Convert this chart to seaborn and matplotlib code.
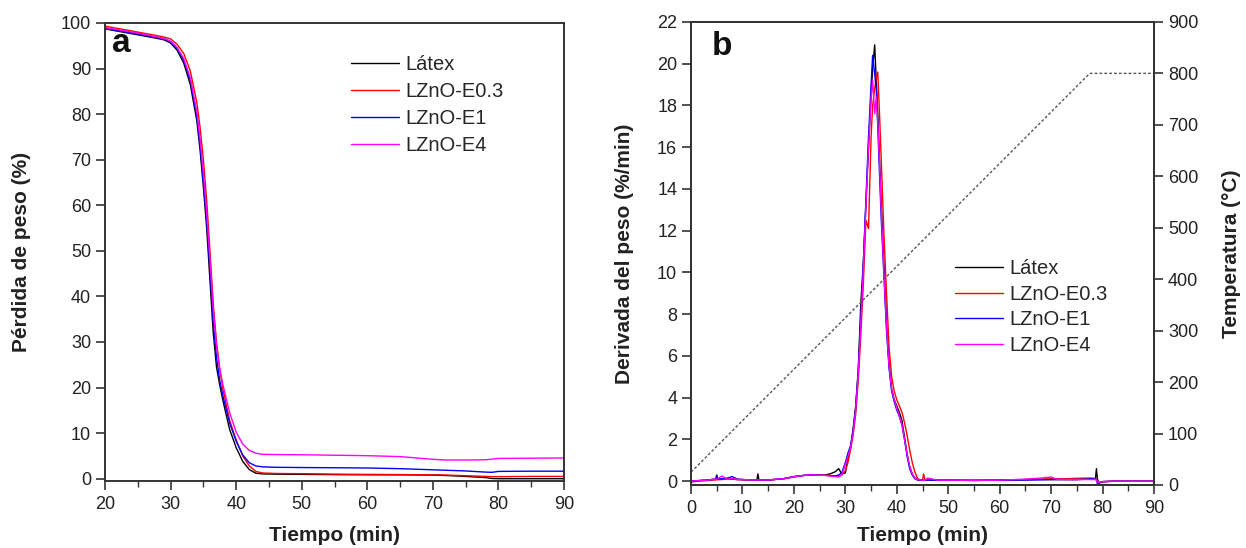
import numpy as np
import pandas as pd
import matplotlib.pyplot as plt
from matplotlib.ticker import MultipleLocator
import seaborn as sns

series = ['Látex', 'LZnO-E0.3', 'LZnO-E1', 'LZnO-E4']
colors = ['#000000', '#ff0000', '#0000ff', '#ff00ff']

# --- panel a: TGA (pérdida de peso) ---
tiempo_a = [20, 25, 28, 29, 30, 31, 32, 33, 34, 34.5, 35, 35.5, 36, 36.5, 37, 37.5, 38, 39, 40, 41,
            42, 43, 44, 46, 50, 55, 60, 65, 70, 72, 75, 78, 79, 80, 85, 90]
latex_a = [98.7, 97.4, 96.6, 96.3, 95.6, 94.0, 91.2, 86.5, 78.5, 72, 64, 55, 43.5, 32, 24.5, 20.5, 17, 10.8, 6.8, 3.8,
           2.0, 1.2, 1.05, 1.0, 0.95, 0.9, 0.85, 0.85, 0.8, 0.7, 0.5, 0.25, 0.05, 0.0, 0.0, 0.0]
e03_a = [99.3, 98.0, 97.2, 96.9, 96.5, 95.3, 93.3, 89.5, 82.5, 77, 70, 61, 50, 38.5, 30, 24, 19.5, 12.8, 8.5, 5.0,
         2.8, 1.6, 1.25, 1.15, 1.1, 1.0, 0.95, 0.9, 0.85, 0.8, 0.65, 0.5, 0.45, 0.45, 0.5, 0.5]
e1_a = [98.8, 97.6, 96.8, 96.5, 95.9, 94.4, 91.8, 87.5, 79.5, 73, 65, 56.5, 46, 34.5, 26.5, 21.5, 18, 12.2, 8.2, 5.2,
        3.5, 2.8, 2.6, 2.5, 2.45, 2.4, 2.35, 2.2, 1.95, 1.85, 1.7, 1.45, 1.4, 1.6, 1.65, 1.65]
e4_a = [99.0, 97.8, 96.9, 96.6, 96.0, 94.6, 92.2, 88, 80.5, 74.5, 67, 58.5, 48, 37, 29, 24, 20.5, 14.5, 10.2, 7.6,
        6.2, 5.6, 5.35, 5.3, 5.25, 5.15, 5.05, 4.85, 4.25, 4.1, 4.1, 4.15, 4.3, 4.45, 4.5, 4.55]

# --- panel b: DTG (derivada del peso) ---
tiempo_b = [0, 1, 2, 3, 4, 4.8, 5, 5.2, 6, 7, 8, 9, 10,
            12, 12.8, 13, 13.2, 15, 18, 20, 22, 24, 26, 27, 28,
            28.7, 29.3, 30, 30.5, 31, 31.5, 32, 32.5, 33, 33.5, 34, 34.5,
            35, 35.3, 35.7, 36, 36.3, 36.7, 37, 37.5, 38, 38.5, 39, 39.5,
            40, 40.5, 41, 41.5, 42, 42.5, 43, 43.5, 44, 44.5, 45, 45.2, 45.5,
            46, 48, 50, 55, 60, 65, 68, 70, 71, 73, 75, 77, 78, 78.6, 78.8, 79, 79.3, 80, 82, 85, 90]
latex_b = [0.0, 0.02, 0.03, 0.05, 0.08, 0.1, 0.3, 0.1, 0.12, 0.12, 0.1, 0.08, 0.08,
           0.06, 0.06, 0.35, 0.06, 0.06, 0.12, 0.22, 0.28, 0.3, 0.3, 0.35, 0.45,
           0.6, 0.35, 0.4, 1.1, 1.6, 2.5, 3.6, 5.3, 8.5, 10.5, 13.3, 16.0,
           18.5, 19.8, 20.9, 19.2, 17.6, 15.0, 13.2, 10.4, 7.6, 5.6, 4.4, 3.9,
           3.6, 3.3, 2.9, 2.1, 1.3, 0.7, 0.35, 0.15, 0.07, 0.05, 0.05, 0.05, 0.05,
           0.05, 0.05, 0.05, 0.04, 0.05, 0.07, 0.08, 0.08, 0.08, 0.08, 0.08, 0.1, 0.1, 0.1, 0.6, 0.1, -0.1, -0.02, 0.0, 0.0, 0.0]
e03_b = [-0.05, 0.0, 0.02, 0.03, 0.05, 0.06, 0.07, 0.07, 0.08, 0.1, 0.1, 0.08, 0.07,
         0.05, 0.05, 0.05, 0.05, 0.05, 0.12, 0.2, 0.28, 0.3, 0.3, 0.28, 0.25,
         0.25, 0.3, 0.5, 0.9, 1.5, 2.2, 3.2, 4.8, 7.0, 9.5, 12.5, 12.1,
         16.5, 18.0, 18.8, 19.3, 19.6, 17.2, 15.2, 11.8, 9.0, 6.4, 5.0, 4.3,
         3.9, 3.6, 3.3, 2.8, 2.2, 1.5, 0.9, 0.45, 0.15, 0.06, 0.05, 0.35, 0.05,
         0.05, 0.05, 0.05, 0.04, 0.05, 0.08, 0.1, 0.12, 0.12, 0.12, 0.14, 0.15, 0.15, 0.12, 0.1, 0.0, -0.05, -0.03, 0.0, 0.0, 0.0]
e1_b = [0.0, 0.02, 0.05, 0.05, 0.08, 0.1, 0.25, 0.1, 0.12, 0.15, 0.22, 0.1, 0.08,
        0.06, 0.06, 0.06, 0.06, 0.06, 0.12, 0.22, 0.28, 0.3, 0.28, 0.27, 0.25,
        0.3, 0.4, 0.9, 1.35, 1.7, 2.4, 3.5, 5.3, 7.8, 10.5, 13.5, 16.5,
        19.0, 20.4, 19.5, 18.8, 17.0, 14.3, 12.4, 9.8, 7.2, 5.4, 4.3, 3.8,
        3.4, 3.1, 2.7, 2.0, 1.2, 0.6, 0.3, 0.12, 0.06, 0.05, 0.05, 0.05, 0.05,
        0.05, 0.05, 0.05, 0.04, 0.05, 0.06, 0.07, 0.08, 0.08, 0.08, 0.08, 0.1, 0.12, 0.1, 0.05, -0.12, -0.05, -0.02, 0.0, 0.0, 0.0]
e4_b = [0.0, 0.02, 0.03, 0.05, 0.08, 0.1, 0.12, 0.12, 0.25, 0.1, 0.15, 0.08, 0.08,
        0.06, 0.06, 0.06, 0.06, 0.06, 0.12, 0.22, 0.28, 0.3, 0.28, 0.25, 0.22,
        0.2, 0.3, 0.8, 1.2, 1.6, 2.3, 3.4, 5.1, 7.5, 10.2, 13.2, 16.0,
        18.3, 19.2, 17.6, 18.4, 17.2, 14.8, 12.8, 10.0, 7.4, 5.5, 4.4, 3.9,
        3.5, 3.1, 2.7, 2.0, 1.3, 0.7, 0.35, 0.15, 0.08, 0.06, 0.05, 0.05, 0.05,
        0.15, 0.05, 0.05, 0.04, 0.05, 0.1, 0.15, 0.2, 0.1, 0.08, 0.08, 0.08, 0.08, 0.08, 0.05, -0.05, -0.05, -0.02, 0.0, 0.0, 0.0]

# programa de temperatura (10 °C/min)
tiempo_temp = [0, 77.5, 90]
temperatura = [25, 800, 800]


def long_df(t, cols):
    return pd.concat([pd.DataFrame({'t': t, 'v': v, 'muestra': s}) for s, v in zip(series, cols)],
                     ignore_index=True)


df_a = long_df(tiempo_a, [latex_a, e03_a, e1_a, e4_a])
df_b = long_df(tiempo_b, [latex_b, e03_b, e1_b, e4_b])
df_temp = pd.DataFrame({'t': tiempo_temp, 'T': temperatura})

sns.set_style('ticks')
plt.rcParams['font.family'] = ['Liberation Sans', 'DejaVu Sans']
ink = '#222222'
plt.rcParams.update({'axes.edgecolor': '#333333', 'axes.linewidth': 1.4,
                     'xtick.color': '#333333', 'ytick.color': '#333333',
                     'xtick.labelcolor': ink, 'ytick.labelcolor': ink,
                     'xtick.major.size': 6.5, 'ytick.major.size': 6.5, 'xtick.minor.size': 4,
                     'xtick.major.width': 1.2, 'ytick.major.width': 1.2, 'xtick.minor.width': 1.0,
                     'xtick.major.pad': 4.5, 'ytick.major.pad': 3.5})

pal = dict(zip(series, colors))
lab = dict(fontsize=15, fontweight='bold', color=ink)
fig = plt.figure(figsize=(12.46, 5.48), dpi=100)
ax1 = fig.add_axes([0.0843, 0.1223, 0.3684, 0.8358])
ax2 = fig.add_axes([0.5546, 0.115, 0.3716, 0.845])

# panel a
sns.lineplot(data=df_a, x='t', y='v', hue='muestra', hue_order=series, palette=pal,
             estimator=None, sort=False, lw=1.0, ax=ax1)
ax1.set_xlim(20, 90)
ax1.set_ylim(-0.5, 100)
ax1.xaxis.set_major_locator(MultipleLocator(10))
ax1.xaxis.set_minor_locator(MultipleLocator(5))
ax1.yaxis.set_major_locator(MultipleLocator(10))
ax1.set_xlabel('Tiempo (min)', **lab)
ax1.set_ylabel('Pérdida de peso (%)', **lab)
ax1.xaxis.set_label_coords(0.5, -0.098)
ax1.yaxis.set_label_coords(-0.162, 0.5)
ax1.tick_params(labelsize=13)
h, l = ax1.get_legend_handles_labels()
ax1.legend(h, l, loc='upper left', bbox_to_anchor=(0.535, 0.93), frameon=False, fontsize=14.5,
           handlelength=2.4, handletextpad=0.3, labelspacing=0.4, borderpad=0, borderaxespad=0)
ax1.text(0.015, 0.99, 'a', transform=ax1.transAxes, fontsize=24, fontweight='bold',
         va='top', ha='left', color='#111111')

# panel b
sns.lineplot(data=df_b, x='t', y='v', hue='muestra', hue_order=series, palette=pal,
             estimator=None, sort=False, lw=1.0, ax=ax2)
ax2.set_xlim(0, 90)
ax2.set_ylim(-0.18, 22)
ax2.xaxis.set_major_locator(MultipleLocator(10))
ax2.xaxis.set_minor_locator(MultipleLocator(5))
ax2.yaxis.set_major_locator(MultipleLocator(2))
ax2.set_xlabel('Tiempo (min)', **lab)
ax2.set_ylabel('Derivada del peso (%/min)', **lab)
ax2.xaxis.set_label_coords(0.5, -0.088)
ax2.yaxis.set_label_coords(-0.124, 0.5)
ax2.tick_params(labelsize=13)
h, l = ax2.get_legend_handles_labels()
ax2.legend(h, l, loc='upper left', bbox_to_anchor=(0.57, 0.487), frameon=False, fontsize=14.5,
           handlelength=2.4, handletextpad=0.3, labelspacing=0.32, borderpad=0, borderaxespad=0)
ax2.text(0.045, 0.98, 'b', transform=ax2.transAxes, fontsize=24, fontweight='bold',
         va='top', ha='left', color='#111111')

ax3 = ax2.twinx()
sns.lineplot(data=df_temp, x='t', y='T', color='#555555', lw=1.0, linestyle=(0, (2, 1.5)), ax=ax3)
ax3.set_ylim(0, 900)
ax3.yaxis.set_major_locator(MultipleLocator(100))
ax3.set_ylabel('Temperatura (°C)', **lab)
ax3.yaxis.set_label_coords(1.147, 0.5)
ax3.tick_params(labelsize=13)
ax3.set_xlim(0, 90)

fig.savefig('out.png', dpi=100)
